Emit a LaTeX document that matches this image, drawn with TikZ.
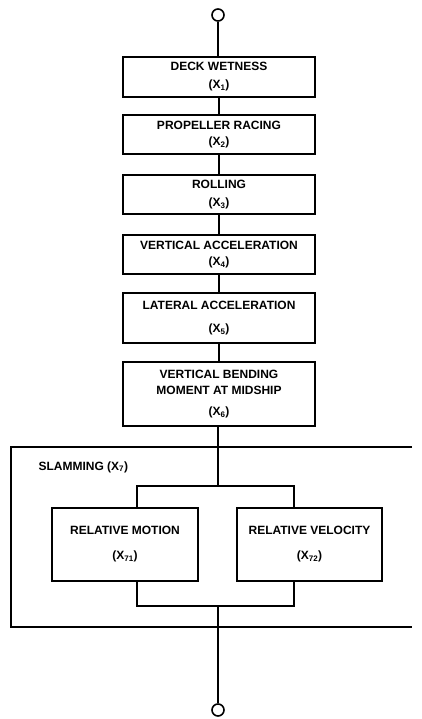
\documentclass[tikz,border=0pt]{standalone}
\usepackage{fontspec}
\setmainfont{Liberation Sans}
\usetikzlibrary{calc}

\begin{document}
\begin{tikzpicture}[x=1pt,y=-1pt]
% Frame of the page
\useasboundingbox (0,0) rectangle (422,719);

\tikzstyle{blk} = [draw, shape=rectangle, minimum width=192pt, inner sep=0pt, line width=1.6pt, align=center, font=\bfseries\fontsize{12}{16}\selectfont]
\tikzstyle{sub} = [draw, shape=rectangle, minimum width=146pt, minimum height=73pt, inner sep=0pt, line width=1.6pt, align=center, font=\bfseries\fontsize{12}{16}\selectfont]
\tikzstyle{term} = [draw, shape=circle, minimum size=12pt, inner sep=0pt, line width=1.6pt]

\node at (218,15) [term] (ctop){};
\node at (219,77) [blk, minimum height=40pt] (b1){DECK WETNESS\\[2pt] (X\textsubscript{1})};
\node at (219,134.5) [blk, minimum height=39pt] (b2){PROPELLER RACING\\ (X\textsubscript{2})};
\node at (219,194.5) [blk, minimum height=39pt] (b3){ROLLING\\[2pt] (X\textsubscript{3})};
\node at (219,254.5) [blk, minimum height=39pt] (b4){VERTICAL ACCELERATION\\ (X\textsubscript{4})};
\node at (219,318) [blk, minimum height=50pt] (b5){LATERAL ACCELERATION\\[7pt] (X\textsubscript{5})};
\node at (219,394) [blk, minimum height=64pt] (b6){VERTICAL BENDING\\ MOMENT AT MIDSHIP\\[5pt] (X\textsubscript{6})};

% slamming group, open at the right
\draw[line width=1.6pt] (412,447) -| (11,627) -- (412,627);
\node at (35,467) [anchor=west, font=\bfseries\fontsize{12}{16}\selectfont] (slam){SLAMMING (X\textsubscript{7})};

\node at (125,544.5) [sub] (sl){RELATIVE MOTION\\[9pt] (X\textsubscript{71})};
\node at (309.5,544.5) [sub, minimum width=145pt] (sr){RELATIVE VELOCITY\\[9pt] (X\textsubscript{72})};

\coordinate (spL) at (137,486);
\coordinate (spR) at (294,486);
\coordinate (jnL) at (137,606);
\coordinate (jnR) at (294,606);
\node at (218,710) [term] (cbot){};

\begin{scope}[line width=1.6pt]
\draw (ctop) -- (ctop |- b1.north);
\draw (b1) -- (b2);
\draw (b2) -- (b3);
\draw (b3) -- (b4);
\draw (b4) -- (b5);
\draw (b5) -- (b6);
\draw (b6.south -| ctop) -- (ctop |- spL);
\draw (spL |- sl.north) -- (spL) -- (spR) -- (spR |- sr.north);
\draw (jnL |- sl.south) -- (jnL) -- (jnR) -- (jnR |- sr.south);
\draw (ctop |- jnL) -- (cbot);
\end{scope}
\end{tikzpicture}
\end{document}
